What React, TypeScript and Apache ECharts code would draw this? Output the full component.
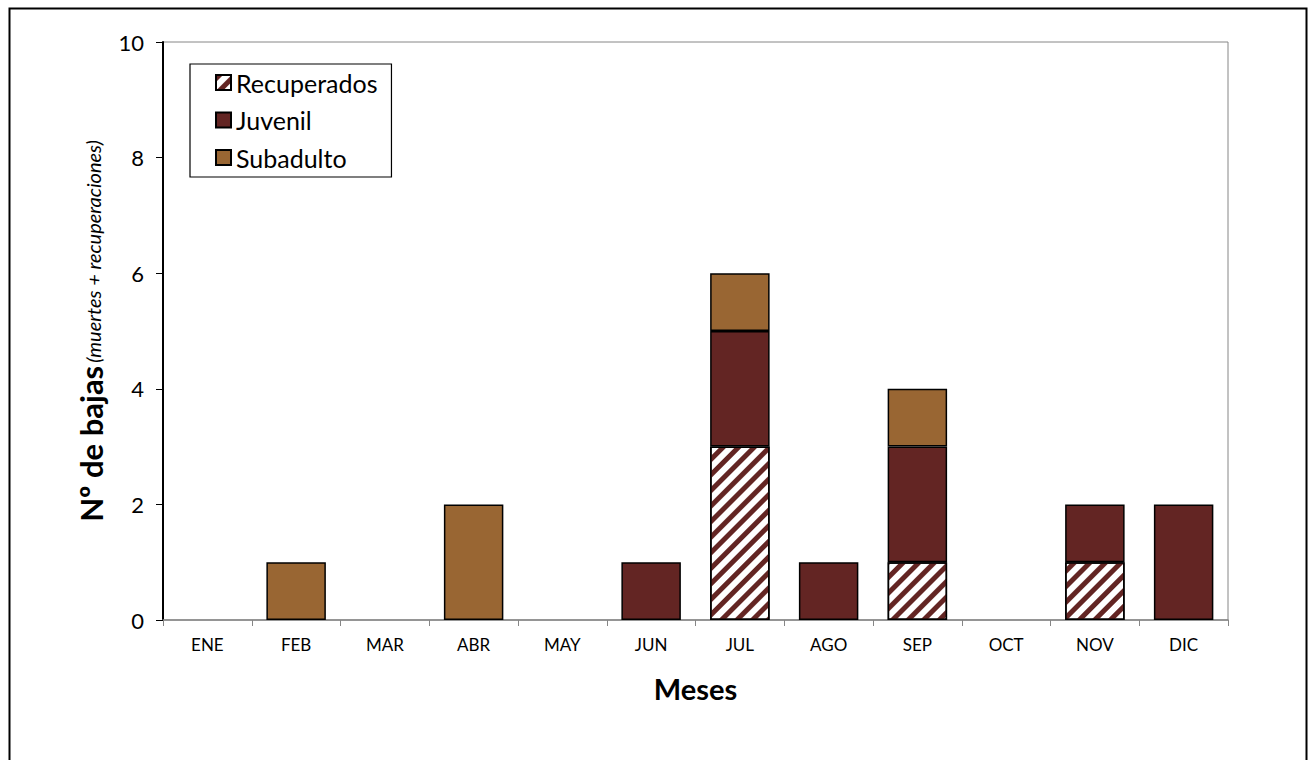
import React, { useEffect, useRef } from "react";
import * as echarts from "echarts";

const months = ["ENE", "FEB", "MAR", "ABR", "MAY", "JUN", "JUL", "AGO", "SEP", "OCT", "NOV", "DIC"];
const recuperados = [0, 0, 0, 0, 0, 0, 3, 0, 1, 0, 1, 0];
const juvenil = [0, 0, 0, 0, 0, 1, 2, 1, 2, 0, 1, 2];
const subadulto = [0, 1, 0, 2, 0, 0, 1, 0, 1, 0, 0, 0];
const yTicks = { min: 0, max: 10, interval: 2 };

const FONT = "Lato, 'Open Sans', sans-serif";
const DARK_RED = "#632523";
const BROWN = "#996633";

const toData = (arr: number[]) => arr.map((v) => (v === 0 ? null : v));

export default function App() {
  const ref = useRef<HTMLDivElement>(null);
  useEffect(() => {
    document.body.style.margin = "0";
    if (!ref.current) return;
    const chart = echarts.init(ref.current, null, { renderer: "svg" });
    const barBase = {
      type: "bar" as const,
      stack: "total",
      barCategoryGap: "33%",
    };
    chart.setOption({
      animation: false,
      textStyle: { fontFamily: FONT },
      grid: {
        left: 163,
        top: 42,
        right: 82,
        bottom: 140,
        show: true,
        borderColor: "#868686",
        borderWidth: 1,
      },
      graphic: [
        {
          type: "rect",
          left: 7,
          top: 6,
          shape: { width: 1297, height: 800 },
          style: { fill: "none", stroke: "#000", lineWidth: 2 },
          silent: true,
        },
      ],
      legend: {
        orient: "vertical",
        left: 190,
        top: 64,
        padding: [6, 14, 7, 25],
        borderColor: "#000",
        borderWidth: 1.2,
        itemWidth: 15,
        itemHeight: 15,
        itemGap: 12.5,
        icon: "rect",
        textStyle: { fontSize: 25, color: "#000", fontFamily: FONT },
        data: ["Recuperados", "Juvenil", "Subadulto"],
      },
      xAxis: {
        type: "category",
        data: months,
        axisLine: { lineStyle: { color: "#868686", width: 1.5 } },
        axisTick: { show: true, alignWithLabel: false, length: 6, lineStyle: { color: "#868686" } },
        axisLabel: { fontSize: 17, color: "#000", margin: 16, fontFamily: FONT },
        name: "Meses",
        nameLocation: "middle",
        nameGap: 54,
        nameTextStyle: { fontSize: 29, fontWeight: "bold", color: "#000", fontFamily: FONT },
      },
      yAxis: {
        type: "value",
        min: yTicks.min,
        max: yTicks.max,
        interval: yTicks.interval,
        splitLine: { show: false },
        axisLine: { show: true, lineStyle: { color: "#000", width: 2 } },
        axisTick: { show: true, length: 7, lineStyle: { color: "#000" } },
        axisLabel: { fontSize: 22, color: "#000", margin: 19, fontFamily: FONT },
        name: "{b|Nº de bajas} {i|(muertes + recuperaciones)}",
        nameLocation: "middle",
        nameRotate: 90,
        nameGap: 57,
        nameTextStyle: {
          color: "#000",
          fontFamily: FONT,
          rich: {
            b: { fontSize: 31, fontWeight: "bold", color: "#000", fontFamily: FONT, verticalAlign: "bottom" },
            i: { fontSize: 20, fontStyle: "italic", color: "#000", fontFamily: FONT, verticalAlign: "bottom", padding: [0, 0, 3, 0] },
          },
        },
      },
      series: [
        {
          ...barBase,
          name: "Recuperados",
          data: toData(recuperados),
          itemStyle: {
            color: "#ffffff",
            borderColor: "#000",
            borderWidth: 1.5,
            decal: {
              symbol: "rect",
              symbolSize: 1,
              color: DARK_RED,
              dashArrayX: [1, 0],
              dashArrayY: [5, 5.5],
              rotation: -Math.PI / 4,
            },
          },
        },
        {
          ...barBase,
          name: "Juvenil",
          data: toData(juvenil),
          itemStyle: { color: DARK_RED, borderColor: "#000", borderWidth: 1.5 },
        },
        {
          ...barBase,
          name: "Subadulto",
          data: toData(subadulto),
          itemStyle: { color: BROWN, borderColor: "#000", borderWidth: 1.5 },
        },
      ],
    });
    return () => chart.dispose();
  }, []);
  return <div ref={ref} style={{ width: 1310, height: 760 }} />;
}
